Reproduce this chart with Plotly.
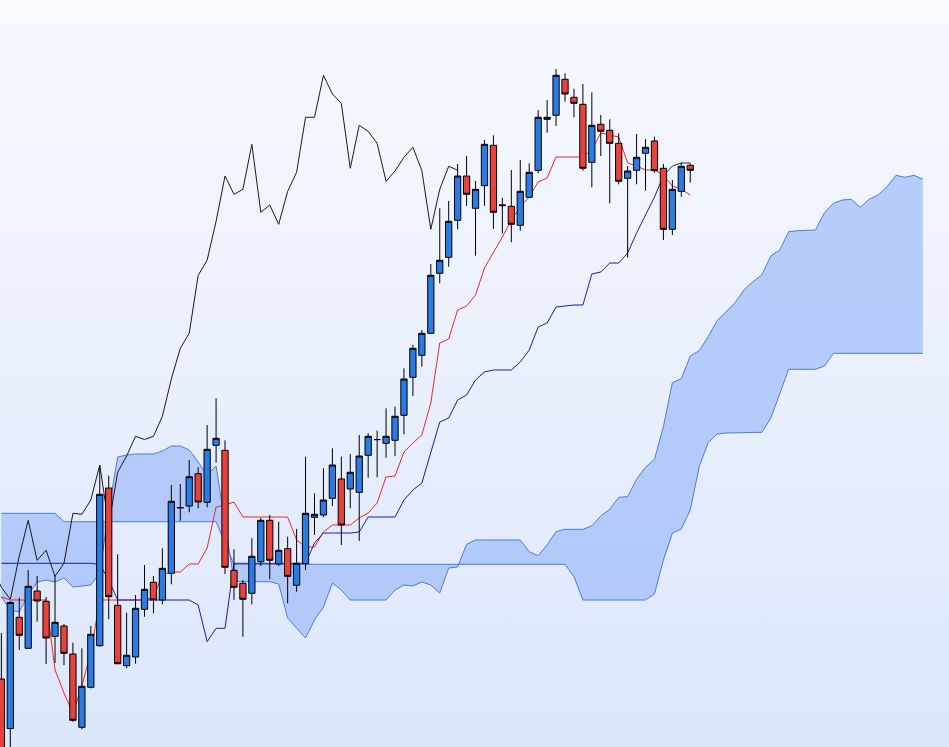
import base64
import plotly.graph_objects as go

# ---------------- data (price units) ----------------
opens = [121, 71.5, 182.7, 151.7, 209, 198.7, 163.7, 174, 146, 72.7,
         112.7, 154.3, 312, 194.7, 134.3, 143, 190.7, 217.7, 200, 226.7,
         292, 294, 326.3, 297.7, 354.7, 349.7, 229.7, 216.7, 206.7, 238.3,
         279.7, 236, 251.3, 214.7, 236.3, 282.7, 285, 301.7, 321, 311,
         307.7, 344.7, 360.3, 356.7, 359.7, 384.7, 422.7, 444.7, 466.7, 526.7,
         542.7, 579.7, 624, 591.7, 614.3, 654.7, 594.3, 593.7, 574.7, 602.7,
         629.7, 680.7, 684.7, 720.7, 702.7, 695.7, 637.7, 675.7, 669.7, 656.7,
         621.7, 629.7, 646.7, 659, 631.7, 570.7, 608.7, 634.7]
highs = [167, 199, 202.3, 230, 224, 203, 225, 176, 157.3, 151.7,
         174, 335, 324.3, 245.7, 187.3, 205, 235, 224, 251.7, 315,
         316, 340, 332.7, 375, 401.7, 359.7, 250.7, 220, 261.7, 282,
         285, 278.3, 263.3, 271, 343.3, 306.7, 331.7, 351.7, 343.3, 346,
         365, 366.7, 369.3, 391.7, 393.3, 431.7, 455, 470, 536, 591.7,
         599, 636, 644, 619, 660, 664.7, 602.3, 630, 640, 636.7,
         690, 700, 731, 726.7, 711.3, 716, 707.7, 685, 680.7, 666.7,
         634, 666, 661, 663.3, 636, 620, 637.3, 636.7]
lows = [28, 48, 150, 151, 178.3, 136, 137, 135, 78.3, 70.7,
        111.7, 153.3, 180.7, 135.7, 131.7, 136.3, 183.3, 186.7, 195.7, 215.7,
        279.3, 287.7, 291.7, 292.7, 337.3, 226, 200, 163.3, 195.7, 234,
        220.7, 234, 196.7, 208.3, 230, 265, 282.7, 294, 255, 291.7,
        259, 322.3, 322.7, 342.3, 344, 365.7, 404, 433.3, 466.7, 516.7,
        533.3, 570.7, 594.3, 544.3, 594.3, 571, 566.7, 557.7, 569.3, 602.7,
        626.7, 667.3, 674, 698.3, 682.7, 629.3, 612.7, 644, 596.7, 615.7,
        542.3, 615.7, 609.3, 627.3, 560, 565, 603.3, 617.3]
closes = [38, 197.5, 164.7, 213.7, 199, 162, 177.7, 146.7, 79.7, 113.7,
          165.7, 305.7, 203.3, 136.3, 144.7, 191.7, 210.7, 200, 231.7, 298.7,
          292.5, 323.3, 298, 350.7, 361.7, 232.7, 212.7, 200.7, 243.7, 279.7,
          239.7, 249.7, 223.7, 236.7, 286.7, 285.7, 300, 335, 275, 327.7,
          344, 363.7, 360.5, 363.7, 383.7, 421, 451.7, 466.7, 524.7, 539.7,
          578.7, 624, 605.7, 610.7, 655.7, 587.7, 595, 575.7, 608.7, 627.7,
          682.7, 682.7, 724.7, 706, 696.7, 631.7, 674.7, 668.7, 656.7, 618.7,
          629, 642.7, 652.7, 629.3, 570.7, 610.7, 633.7, 629.7]

tenkan = [203, 200, 200, 200, 200, 200, 130, 107, 87, 114,
          147, 200, 200, 200, 200, 200, 200, 203, 225, 228,
          228, 236, 236, 252, 293, 295, 298, 283, 283, 283,
          283, 283, 283, 260, 253, 253, 268, 275, 275, 275,
          282, 287, 297, 323, 324, 348, 357, 365, 397, 457,
          461, 490, 494, 505, 532, 547, 563, 580, 593, 603,
          618, 622, 643, 643, 643, 643, 650, 667, 665, 663,
          637, 634, 630, 630, 625, 614, 611, 605]
kijun = [236.7, 236.7, 236.7, 236.7, 236.7, 236.7, 236.7, 236.7, 236.7, 236.7,
         236.7, 235.5, 220, 200, 200, 200, 200, 200, 200, 200,
         200, 200, 195, 158.3, 171.7, 171.7, 236.7, 236.7, 236.7, 236.7,
         236.7, 236.7, 236.7, 236.7, 236.7, 257, 267, 267, 267, 267,
         268, 283, 283, 283, 283, 300, 310, 317, 348, 378,
         382, 400, 405, 420, 428, 430, 430, 430, 438, 450,
         473, 477, 493, 494, 495, 495, 526, 528, 537, 537,
         547, 567, 585, 603, 624, 634, 637, 637]

span_a = [203, 190, 188, 205, 218, 220, 218, 222, 213, 214,
          215, 227, 290, 343, 345, 346, 346, 346, 349, 354,
          354, 350, 338, 325, 334, 276, 219, 218.3, 218.3, 218.3,
          218.3, 216, 182, 172, 162, 180, 193, 217, 210, 200,
          200, 200, 200, 200, 210, 215, 214, 218, 215, 207,
          232, 233, 255.7, 260, 260, 260, 260, 260, 260, 248.3,
          244.3, 255, 268.3, 270.7, 270.7, 270.7, 274.3, 284, 290.7, 302.7,
          303.3, 320.7, 332.7, 340.7, 373.3, 417.3, 421.3, 444, 449.3, 463.3,
          479.3, 488.3, 497.3, 510, 518.3, 525, 544, 550, 568.3, 569.3,
          569.7, 570, 587.3, 596.7, 600, 600.7, 592.7, 600.7, 605, 613.3,
          624.7, 622.7, 624.7, 620.7]
span_b = [286.7, 286.7, 286.7, 286.7, 286.7, 286.7, 286.7, 278.3, 278.3, 278.3,
          278.3, 278.3, 278.3, 278.3, 278.3, 278.3, 278.3, 278.3, 278.3, 278.3,
          278.3, 278.3, 278.3, 278.3, 278.3, 257, 235.7, 235.7, 235.7, 235.7,
          235.7, 235.7, 235.7, 235.7, 235.7, 235.7, 235.7, 235.7, 235.7, 235.7,
          235.7, 235.7, 235.7, 235.7, 235.7, 235.7, 235.7, 235.7, 235.7, 235.7,
          235.7, 235.7, 235.7, 235.7, 235.7, 235.7, 235.7, 235.7, 235.7, 235.7,
          235.7, 235.7, 235.7, 235.7, 223.3, 200, 200, 200, 200, 200,
          200, 200, 200, 206, 240, 266.7, 271, 290, 333.3, 357.3,
          366, 367, 367, 367.5, 367.7, 367.7, 381.7, 406, 430.7, 430.7,
          430.7, 430.7, 434, 446.7, 446.7, 446.7, 446.7, 446.7, 446.7, 446.7,
          446.7, 446.7, 446.7, 446.7]

shift = 26
idx = list(range(len(closes)))
cloud_x = list(range(len(span_a)))
chikou_x = [i - shift for i in idx]

X_RANGE = [-0.151, 105.92]
Y_RANGE = [53, 800]

# ---------------- figure ----------------
fig = go.Figure()

fig.add_trace(go.Scatter(x=cloud_x, y=span_b, mode="lines",
                         line=dict(color="#4f7bd9", width=1), hoverinfo="skip",
                         showlegend=False))
fig.add_trace(go.Scatter(x=cloud_x, y=span_a, mode="lines",
                         line=dict(color="#4f7bd9", width=1), fill="tonexty",
                         fillcolor="rgba(160,188,250,0.72)", hoverinfo="skip",
                         showlegend=False))
fig.add_trace(go.Scatter(x=chikou_x, y=closes, mode="lines",
                         line=dict(color="#1a1a1a", width=1), showlegend=False))
fig.add_trace(go.Scatter(x=idx, y=tenkan, mode="lines",
                         line=dict(color="#e8282a", width=1), showlegend=False))
fig.add_trace(go.Scatter(x=idx, y=kijun, mode="lines",
                         line=dict(color="#1c1cae", width=1), showlegend=False))
fig.add_trace(go.Candlestick(
    x=idx, open=opens, high=highs, low=lows, close=closes,
    xaxis="x2", yaxis="y2",
    increasing=dict(line=dict(color="#000000", width=1), fillcolor="#2c7be5"),
    decreasing=dict(line=dict(color="#000000", width=1), fillcolor="#e8423d"),
    whiskerwidth=0, showlegend=False))

svg = ('<svg xmlns="http://www.w3.org/2000/svg" width="10" height="100" '
       'preserveAspectRatio="none"><defs><linearGradient id="g" x1="0" y1="0" '
       'x2="0" y2="1"><stop offset="0" stop-color="#f7f9ff"/>'
       '<stop offset="1" stop-color="#dce6fb"/></linearGradient></defs>'
       '<rect width="10" height="100" fill="url(#g)"/></svg>')
bg_src = "data:image/svg+xml;base64," + base64.b64encode(svg.encode()).decode()

axis_common = dict(visible=False, showgrid=False, zeroline=False, fixedrange=True)
fig.update_layout(
    width=949, height=747,
    margin=dict(l=0, r=0, t=0, b=0),
    paper_bgcolor="#eaf0fd", plot_bgcolor="rgba(0,0,0,0)",
    showlegend=False,
    boxgap=0.3, boxgroupgap=0,
    images=[dict(source=bg_src, xref="paper", yref="paper", x=0, y=1,
                 sizex=1, sizey=1, sizing="stretch", layer="below",
                 xanchor="left", yanchor="top")],
    xaxis=dict(range=X_RANGE, rangeslider=dict(visible=False), **axis_common),
    yaxis=dict(range=Y_RANGE, **axis_common),
    xaxis2=dict(range=X_RANGE, overlaying="x", rangeslider=dict(visible=False),
                **axis_common),
    yaxis2=dict(range=Y_RANGE, overlaying="y", **axis_common),
)

fig.write_html("out.html", config={"displayModeBar": False},
               post_script="document.body.style.margin='0';")
